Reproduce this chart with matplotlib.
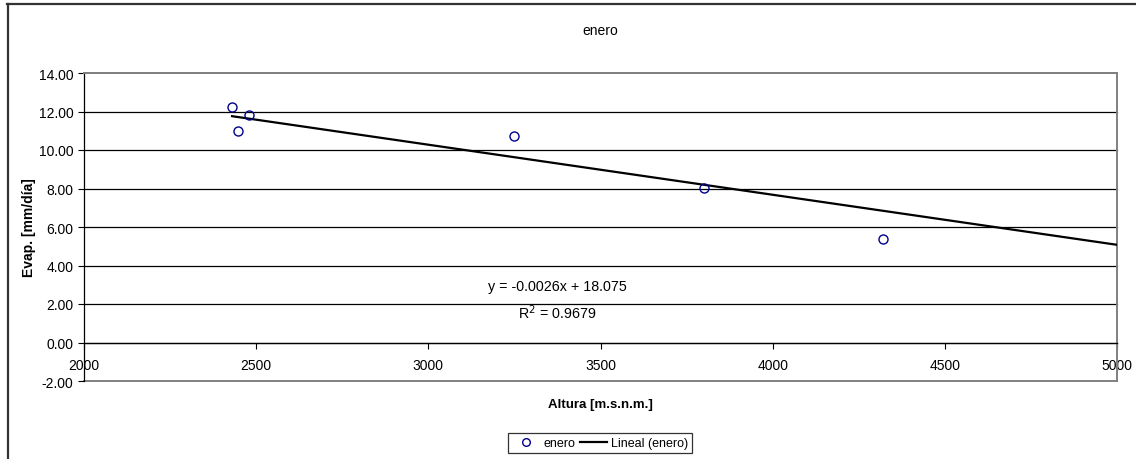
import matplotlib
matplotlib.use("Agg")
import matplotlib.pyplot as plt
from matplotlib.lines import Line2D
import numpy as np

plt.rcParams['font.family'] = ['Liberation Sans', 'DejaVu Sans']

# Data
altura = [2430, 2448, 2480, 3250, 3802, 4320]
evap = [12.22, 10.97, 11.82, 10.73, 8.02, 5.36]
trend_slope = -0.0026
trend_intercept = 18.075
trend_x_end = 5000
series_name = "enero"
trend_name = "Lineal (enero)"
eq_text = "y = -0.0026x + 18.075"
r2_text = "R$^2$ = 0.9679"
y_ticks = [-2, 0, 2, 4, 6, 8, 10, 12, 14]
x_ticks = [2000, 2500, 3000, 3500, 4000, 4500, 5000]

W, H = 1136, 460
fig = plt.figure(figsize=(W / 100, H / 100), dpi=100)
ax = fig.add_axes([84 / W, (H - 382) / H, (1117 - 84) / W, (382 - 74) / H])

# gridlines
for yv in y_ticks:
    ax.axhline(yv, color='black' if yv not in (-2, 14) else '#808080',
               lw=0.9 if yv not in (-2, 14) else 1.4, zorder=1, clip_on=False)

# trend line
tx = np.array([min(altura), trend_x_end])
ty = trend_slope * tx + trend_intercept
ax.plot(tx, ty, color='black', lw=1.6, zorder=3, label=trend_name)

# data points
ax.plot(altura, evap, linestyle='none', marker='o', ms=6.5, mfc='none',
        mec='#00008B', mew=1.0, zorder=4, label=series_name)

ax.set_xlim(2000, 5000)
ax.set_ylim(-2, 14)
ax.set_xticks(x_ticks)
ax.set_yticks(y_ticks)
ax.set_yticklabels([f"{v:.2f}" for v in y_ticks])
ax.set_xticklabels([str(v) for v in x_ticks])

ax.spines['bottom'].set_position(('data', 0))
ax.spines['bottom'].set_color('black')
ax.spines['bottom'].set_linewidth(0.9)
ax.spines['left'].set_color('black')
ax.spines['left'].set_linewidth(0.9)
for s in ('top', 'right'):
    ax.spines[s].set_color('#808080')
    ax.spines[s].set_linewidth(1.4)

ax.tick_params(axis='both', direction='out', length=4, width=0.8,
               labelsize=10, colors='black')
ax.tick_params(axis='x', pad=7)

ax.text(3375, 2.92, eq_text, ha='center', va='center', fontsize=10.3)
ax.text(3375, 1.61, r2_text, ha='center', va='center', fontsize=10.3)

ax.set_title(series_name, fontsize=10, pad=28)
ax.set_xlabel("Altura [m.s.n.m.]", fontsize=9.5, fontweight='bold')
ax.xaxis.set_label_coords(0.5, -0.055)
ax.set_ylabel("Evap. [mm/día]", fontsize=10, fontweight='bold')
ax.yaxis.set_label_coords(-0.046, 0.5)

handles = [Line2D([], [], linestyle='none', marker='o', ms=5.5, mfc='none',
                  mec='#00008B', mew=1.0),
           Line2D([], [], color='black', lw=1.6)]
leg = fig.legend(handles, [series_name, trend_name], loc='center',
                 bbox_to_anchor=(600 / W, (H - 444) / H), ncol=2,
                 fontsize=9, frameon=True, fancybox=False, edgecolor='black',
                 handlelength=2.2, handletextpad=0.3, columnspacing=0.4,
                 borderpad=0.3, borderaxespad=0)
leg.get_frame().set_linewidth(0.9)

# outer chart border
fig.add_artist(Line2D([7.5 / W, 7.5 / W], [0, (H - 5) / H], color='#333333',
                      lw=1.6, transform=fig.transFigure))
fig.add_artist(Line2D([7 / W, 1], [(H - 5) / H, (H - 5) / H], color='#333333',
                      lw=1.6, transform=fig.transFigure))

fig.savefig("out.png", dpi=100)
